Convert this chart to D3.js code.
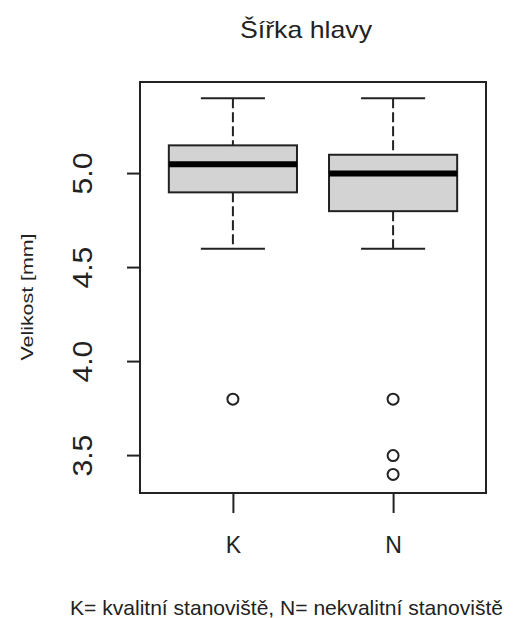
<!DOCTYPE html>
<html>
<head>
<meta charset="utf-8">
<script src="https://cdn.jsdelivr.net/npm/d3@7"></script>
<style>
  body { margin: 0; background: #fff; }
  text { font-family: "Liberation Sans", Arial, sans-serif; fill: #222; }
</style>
</head>
<body>
<div id="area"></div>
<script>
// chart data
let groups    = ["K", "N"];
let lowWhisk  = [4.6, 4.6];
let q1        = [4.9, 4.8];
let medians   = [5.05, 5.0];
let q3        = [5.15, 5.1];
let highWhisk = [5.4, 5.4];
let outliersK = [3.8];
let outliersN = [3.8, 3.5, 3.4];
let yTicks    = [3.5, 4.0, 4.5, 5.0];

let width  = 515,
    height = 618;

let plot = { left: 140, top: 82, right: 486, bottom: 493 };

let svg =
  d3.select("#area")
    .append("svg")
      .attr("width", width)
      .attr("height", height);

let x =
  d3.scalePoint()
    .domain(groups)
    .range([plot.left, plot.right])
    .padding(0.58);

let y =
  d3.scaleLinear()
    .domain([3.301, 5.487])
    .range([plot.bottom, plot.top]);

let boxW = x.step() * 0.8;

let data = groups.map(function(g, i) {
  return {
    group: g,
    lo: lowWhisk[i], q1: q1[i], med: medians[i], q3: q3[i], hi: highWhisk[i],
    out: i === 0 ? outliersK : outliersN
  };
});

let box = svg.selectAll(".box")
  .data(data)
  .enter().append("g")
    .attr("class", "box");

// whiskers
box.append("line")
    .attr("x1", d => x(d.group)).attr("x2", d => x(d.group))
    .attr("y1", d => y(d.hi)).attr("y2", d => y(d.q3))
    .attr("stroke", "#222").attr("stroke-width", 2)
    .attr("stroke-dasharray", "10,4");
box.append("line")
    .attr("x1", d => x(d.group)).attr("x2", d => x(d.group))
    .attr("y1", d => y(d.q1)).attr("y2", d => y(d.lo))
    .attr("stroke", "#222").attr("stroke-width", 2)
    .attr("stroke-dasharray", "10,4");

// whisker caps
["hi", "lo"].forEach(function(k) {
  box.append("line")
      .attr("x1", d => x(d.group) - boxW / 4)
      .attr("x2", d => x(d.group) + boxW / 4)
      .attr("y1", d => y(d[k])).attr("y2", d => y(d[k]))
      .attr("stroke", "#222").attr("stroke-width", 2);
});

box.append("rect")
    .attr("x", d => x(d.group) - boxW / 2)
    .attr("y", d => y(d.q3))
    .attr("width", boxW)
    .attr("height", d => y(d.q1) - y(d.q3))
    .attr("fill", "#d3d3d3")
    .attr("stroke", "#222")
    .attr("stroke-width", 2);

box.append("line")
    .attr("x1", d => x(d.group) - boxW / 2)
    .attr("x2", d => x(d.group) + boxW / 2)
    .attr("y1", d => y(d.med)).attr("y2", d => y(d.med))
    .attr("stroke", "#000").attr("stroke-width", 6);

box.selectAll("circle")
  .data(d => d.out.map(v => ({ group: d.group, v: v })))
  .enter().append("circle")
    .attr("cx", d => x(d.group))
    .attr("cy", d => y(d.v))
    .attr("r", 5.5)
    .attr("fill", "none")
    .attr("stroke", "#222")
    .attr("stroke-width", 2);

// frame
svg.append("rect")
    .attr("x", plot.left).attr("y", plot.top)
    .attr("width", plot.right - plot.left)
    .attr("height", plot.bottom - plot.top)
    .attr("fill", "none")
    .attr("stroke", "#222")
    .attr("stroke-width", 2);

// y axis
let yAxis = svg.append("g")
    .attr("transform", translate(plot.left, 0))
    .call(d3.axisLeft(y).tickValues(yTicks).tickFormat(d3.format(".1f")).tickSize(13).tickPadding(0));
yAxis.select(".domain").remove();
yAxis.selectAll("line").attr("stroke", "#222").attr("stroke-width", 2);
yAxis.selectAll("text")
    .attr("x", null).attr("dy", null)
    .attr("transform", d => "translate(-48," + y(d) + ") rotate(-90)")
    .attr("y", null)
    .attr("text-anchor", "middle")
    .attr("font-size", 27)
    .attr("textLength", 42)
    .attr("lengthAdjust", "spacingAndGlyphs");
yAxis.selectAll(".tick").attr("transform", null);
yAxis.selectAll(".tick line")
    .attr("transform", d => translate(0, y(d)));

// x axis
let xAxis = svg.append("g")
    .attr("transform", translate(0, plot.bottom))
    .call(d3.axisBottom(x).tickSize(20).tickPadding(24));
xAxis.select(".domain").remove();
xAxis.selectAll("line").attr("stroke", "#222").attr("stroke-width", 2);
xAxis.selectAll("text").attr("font-size", 23);

svg.append("text")
    .attr("transform", "translate(33,297) rotate(-90)")
    .attr("text-anchor", "middle")
    .attr("font-size", 16)
    .attr("textLength", 127)
    .attr("lengthAdjust", "spacingAndGlyphs")
    .text("Velikost [mm]");

svg.append("text")
    .attr("x", 306).attr("y", 38)
    .attr("text-anchor", "middle")
    .attr("font-family", "Open Sans")
    .attr("font-size", 24)
    .attr("textLength", 132)
    .attr("lengthAdjust", "spacingAndGlyphs")
    .text("Šířka hlavy");

svg.append("text")
    .attr("x", 70).attr("y", 615)
    .attr("font-size", 21)
    .attr("textLength", 433)
    .attr("lengthAdjust", "spacingAndGlyphs")
    .text("K= kvalitní stanoviště, N= nekvalitní stanoviště");

function translate(x, y = 0) {
  return "translate(" + x + "," + y + ")";
}
</script>
</body>
</html>
